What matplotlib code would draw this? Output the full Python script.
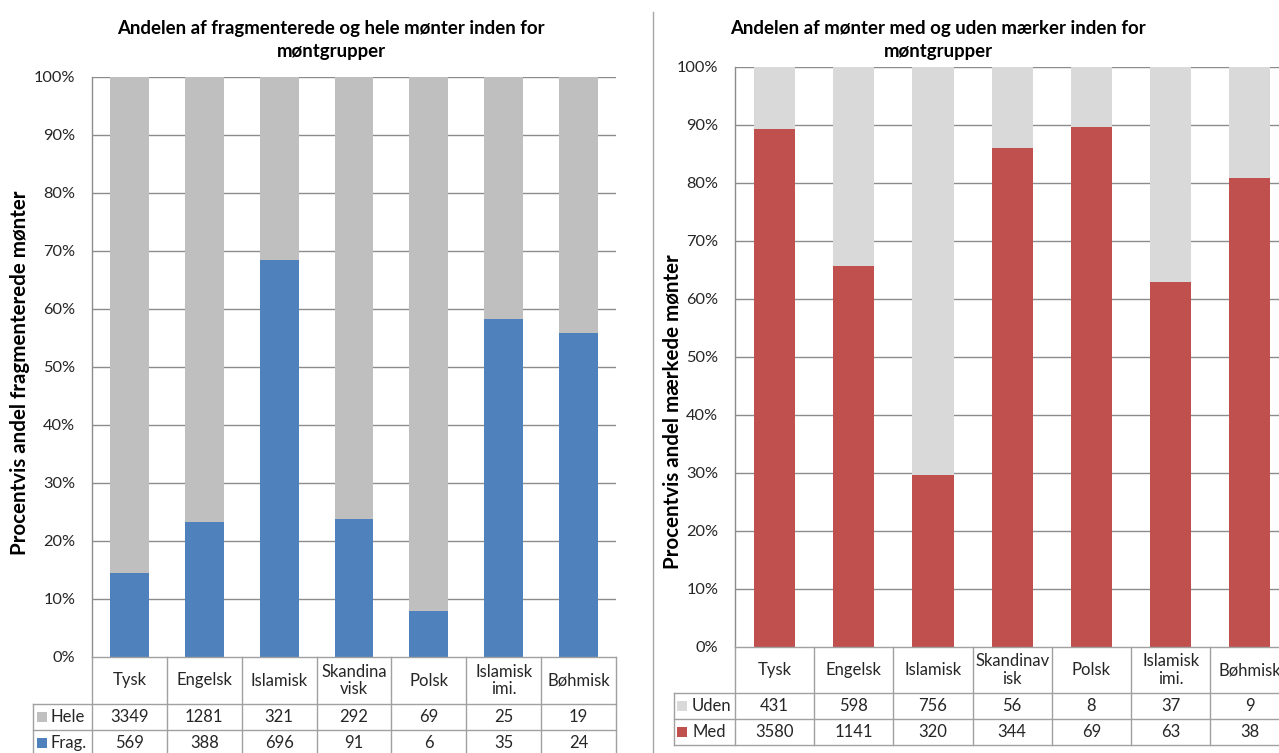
import matplotlib
matplotlib.use("Agg")
import matplotlib.pyplot as plt
import matplotlib.transforms as mtransforms
from matplotlib.lines import Line2D
from matplotlib.patches import Rectangle

plt.rcParams['font.family'] = ['Lato', 'DejaVu Sans']

# ---------------- data ----------------
categories = ["Tysk", "Engelsk", "Islamisk", "Skandinavisk", "Polsk", "Islamisk imi.", "Bøhmisk"]
left_headers = ["Tysk", "Engelsk", "Islamisk", "Skandina\nvisk", "Polsk", "Islamisk\nimi.", "Bøhmisk"]
right_headers = ["Tysk", "Engelsk", "Islamisk", "Skandinav\nisk", "Polsk", "Islamisk\nimi.", "Bøhmisk"]
hele = [3349, 1281, 321, 292, 69, 25, 19]
frag = [569, 388, 696, 91, 6, 35, 24]
uden = [431, 598, 756, 56, 8, 37, 9]
med = [3580, 1141, 320, 344, 69, 63, 38]
yticks = [0, 10, 20, 30, 40, 50, 60, 70, 80, 90, 100]
ytick_labels = [f"{t}%" for t in yticks]

left_title = "Andelen af fragmenterede og hele mønter inden for\nmøntgrupper"
right_title = "Andelen af mønter med og uden mærker inden for\nmøntgrupper"
left_ylabel = "Procentvis andel fragmenterede mønter"
right_ylabel = "Procentvis andel mærkede mønter"

C_BLUE = "#4F81BD"
C_GRAY = "#BFBFBF"
C_RED = "#C0504D"
C_LGRAY = "#D9D9D9"
GRID = "#8C8C8C"
TLINE = "#A0A0A0"
TXT = "#262626"
FS = 12.0

W, H = 1279, 753
fig = plt.figure(figsize=(W / 100, H / 100), dpi=100)


def fy(px):
    return (H - px) / H


def make_panel(x0, x1, y_top, y_bot, lower_vals, upper_vals, lower_c, upper_c,
               headers, row_names, row_vals, row_colors, header_bot, row_bots,
               label_left_px, key_px, text_px, ylabel, ylabel_xy):
    ax = fig.add_axes([x0 / W, fy(y_bot), (x1 - x0) / W, (y_bot - y_top) / H])
    n = len(categories)
    xs = list(range(n))
    tot = [a + b for a, b in zip(lower_vals, upper_vals)]
    low_pct = [100 * a / t for a, t in zip(lower_vals, tot)]
    up_pct = [100 * b / t for b, t in zip(upper_vals, tot)]
    ax.bar(xs, low_pct, width=0.52, color=lower_c, zorder=3)
    ax.bar(xs, up_pct, bottom=low_pct, width=0.52, color=upper_c, zorder=3)
    ax.set_xlim(-0.5, n - 0.5)
    ax.set_ylim(0, 100)
    ax.set_yticks(yticks)
    ax.set_yticklabels(ytick_labels, fontsize=11.8, color=TXT)
    ax.set_xticks([])
    ax.tick_params(axis='y', length=0, pad=12)
    for yv in yticks[1:]:
        ax.axhline(yv, color=GRID, lw=1, zorder=1)
    for s in ["top", "right", "bottom"]:
        ax.spines[s].set_visible(False)
    ax.spines["left"].set_color(GRID)
    ax.spines["left"].set_linewidth(1)
    ax.set_ylabel(ylabel, fontsize=14.8, fontweight='bold', color="black")
    ax.yaxis.set_label_coords(*ylabel_xy)

    # table
    tr = mtransforms.blended_transform_factory(ax.transData, fig.transFigure)
    px_per_unit = (x1 - x0) / n
    xl = -0.5 + (label_left_px - x0) / px_per_unit
    bottom_px = row_bots[-1]
    for k in range(n + 1):
        xv = -0.5 + k
        fig.add_artist(Line2D([xv, xv], [fy(y_bot), fy(bottom_px)], transform=tr,
                              color=TLINE, lw=1, clip_on=False))
    fig.add_artist(Line2D([xl, xl], [fy(header_bot), fy(bottom_px)], transform=tr,
                          color=TLINE, lw=1, clip_on=False))
    fig.add_artist(Line2D([-0.5, n - 0.5], [fy(y_bot), fy(y_bot)], transform=tr,
                          color=TLINE, lw=1, clip_on=False))
    for yb in [header_bot] + row_bots:
        fig.add_artist(Line2D([xl, n - 0.5], [fy(yb), fy(yb)], transform=tr,
                              color=TLINE, lw=1, clip_on=False))
    hy = fy((y_bot + header_bot) / 2)
    for i, h in enumerate(headers):
        fig.text(i, hy, h, transform=tr, ha='center', va='center', fontsize=FS,
                 color=TXT, linespacing=1.15)
    tops = [header_bot] + row_bots[:-1]
    for r, (nm, vals, col) in enumerate(zip(row_names, row_vals, row_colors)):
        cy = fy((tops[r] + row_bots[r]) / 2)
        for i, v in enumerate(vals):
            fig.text(i, cy, str(v), transform=tr, ha='center', va='center',
                     fontsize=FS, color=TXT)
        fig.add_artist(Rectangle((key_px / W, cy - 5 / H), 10 / W, 10 / H,
                                 transform=fig.transFigure, color=col, lw=0))
        fig.text(text_px / W, cy, nm, ha='left', va='center', fontsize=FS,
                 color=TXT)
    return ax


make_panel(92, 616, 77, 657, frag, hele, C_BLUE, C_GRAY, left_headers,
           ["Hele", "Frag."], [hele, frag], [C_GRAY, C_BLUE], 704, [730, 756],
           33, 37, 51, left_ylabel, (-0.118, 0.49))
fig.text(331 / W, fy(40), left_title, ha='center', va='center', fontsize=13.4,
         fontweight='bold', color="black", linespacing=1.45)

make_panel(735, 735 + 7 * 79.2, 67, 647, med, uden, C_RED, C_LGRAY, right_headers,
           ["Uden", "Med"], [uden, med], [C_LGRAY, C_RED], 693, [719, 745],
           674, 677, 692, right_ylabel, (-0.094, 0.405))
fig.text(938 / W, fy(40), right_title, ha='center', va='center', fontsize=13.4,
         fontweight='bold', color="black", linespacing=1.45)

fig.add_artist(Line2D([653 / W, 653 / W], [fy(12), fy(753)], transform=fig.transFigure,
                      color="#A6A6A6", lw=1))

fig.savefig("out.png", dpi=100)
